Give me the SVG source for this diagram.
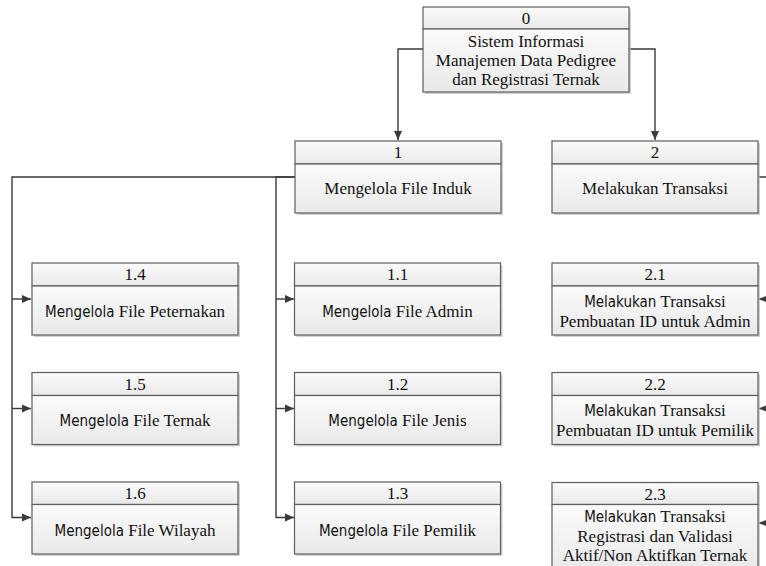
<svg xmlns="http://www.w3.org/2000/svg" width="766" height="566" viewBox="0 0 766 566">
<defs>
<linearGradient id="g" x1="0" y1="0" x2="0" y2="1">
<stop offset="0" stop-color="#fbfbfb"/>
<stop offset="1" stop-color="#e9e9e9"/>
</linearGradient>
<marker id="ah" markerUnits="userSpaceOnUse" markerWidth="10" markerHeight="10" refX="9" refY="5" orient="auto">
<path d="M0,1 L9,5 L0,9 Z" fill="#3a3a3a"/>
</marker>
<style>
.sh{fill:#bdbdbd;opacity:0.7}
.bx{fill:url(#g);stroke:#5e5e5e;stroke-width:1.2}
.t{font-family:"Liberation Serif","Times New Roman",serif;font-size:17px;fill:#111;text-anchor:middle}
.s{font-family:"DejaVu Sans Condensed","DejaVu Sans",sans-serif;font-stretch:condensed;font-size:15px}
.c{fill:none;stroke:#3a3a3a;stroke-width:1.4}
.a{marker-end:url(#ah)}
</style>
</defs>
<rect width="766" height="566" fill="#ffffff"/>

<g id="connectors">
<path class="c a" d="M423,49 H398 V140"/>
<path class="c a" d="M629,49 H655 V140"/>
<path class="c a" d="M295,177 H12 V517.5 H31"/>
<path class="c a" d="M12,299 H31"/>
<path class="c a" d="M12,408.5 H31"/>
<path class="c a" d="M295,177 H276 V517.5 H294"/>
<path class="c a" d="M276,299 H294"/>
<path class="c a" d="M276,408.5 H294"/>
<path class="c" d="M758,177 H768 V523"/>
<path class="c a" d="M768,299 H759"/>
<path class="c a" d="M768,408.5 H759"/>
<path class="c a" d="M768,523 H759"/>
</g>

<g id="n0">
<rect class="sh" x="425" y="9" width="206" height="85"/>
<rect class="bx" x="423" y="7" width="206" height="22"/>
<rect class="bx" x="423" y="29" width="206" height="63"/>
<text class="t" x="526" y="24">0</text>
<text class="t" x="526" y="47">Sistem Informasi</text>
<text class="t" x="526" y="66">Manajemen Data Pedigree</text>
<text class="t" x="526" y="85">dan Registrasi Ternak</text>
</g>

<g id="n1">
<rect class="sh" x="297" y="143" width="206" height="72"/>
<rect class="bx" x="295" y="141" width="206" height="23"/>
<rect class="bx" x="295" y="164" width="206" height="49"/>
<text class="t" x="398" y="158">1</text>
<text class="t" x="398" y="194">Mengelola File Induk</text>
</g>

<g id="n2">
<rect class="sh" x="554" y="143" width="206" height="72"/>
<rect class="bx" x="552" y="141" width="206" height="23"/>
<rect class="bx" x="552" y="164" width="206" height="49"/>
<text class="t" x="655" y="158">2</text>
<text class="t" x="655" y="194">Melakukan Transaksi</text>
</g>

<g id="n1-4">
<rect class="sh" x="34" y="265" width="206" height="72"/>
<rect class="bx" x="32" y="263" width="206" height="23"/>
<rect class="bx" x="32" y="286" width="206" height="49"/>
<text class="t" x="135" y="280">1.4</text>
<text class="t" x="135" y="316.5"><tspan class="s">Mengelola</tspan> File Peternakan</text>
</g>

<g id="n1-5">
<rect class="sh" x="34" y="374.5" width="206" height="72"/>
<rect class="bx" x="32" y="372.5" width="206" height="23"/>
<rect class="bx" x="32" y="395.5" width="206" height="49"/>
<text class="t" x="135" y="389.5">1.5</text>
<text class="t" x="135" y="426"><tspan class="s">Mengelola</tspan> File Ternak</text>
</g>

<g id="n1-6">
<rect class="sh" x="34" y="484" width="206" height="72"/>
<rect class="bx" x="32" y="482" width="206" height="22.5"/>
<rect class="bx" x="32" y="504.5" width="206" height="49.5"/>
<text class="t" x="135" y="499">1.6</text>
<text class="t" x="135" y="535.5"><tspan class="s">Mengelola</tspan> File Wilayah</text>
</g>

<g id="n1-1">
<rect class="sh" x="296.5" y="265" width="206" height="72"/>
<rect class="bx" x="294.5" y="263" width="206" height="23"/>
<rect class="bx" x="294.5" y="286" width="206" height="49"/>
<text class="t" x="397.5" y="280">1.1</text>
<text class="t" x="397.5" y="316.5"><tspan class="s">Mengelola</tspan> File Admin</text>
</g>

<g id="n1-2">
<rect class="sh" x="296.5" y="374.5" width="206" height="72"/>
<rect class="bx" x="294.5" y="372.5" width="206" height="23"/>
<rect class="bx" x="294.5" y="395.5" width="206" height="49"/>
<text class="t" x="397.5" y="389.5">1.2</text>
<text class="t" x="397.5" y="426"><tspan class="s">Mengelola</tspan> File Jenis</text>
</g>

<g id="n1-3">
<rect class="sh" x="296.5" y="484" width="206" height="72"/>
<rect class="bx" x="294.5" y="482" width="206" height="22.5"/>
<rect class="bx" x="294.5" y="504.5" width="206" height="49.5"/>
<text class="t" x="397.5" y="499">1.3</text>
<text class="t" x="397.5" y="535.5"><tspan class="s">Mengelola</tspan> File Pemilik</text>
</g>

<g id="n2-1">
<rect class="sh" x="554" y="265" width="206" height="72"/>
<rect class="bx" x="552" y="263" width="206" height="23"/>
<rect class="bx" x="552" y="286" width="206" height="49"/>
<text class="t" x="655" y="280">2.1</text>
<text class="t" x="655" y="306.5"><tspan class="s">Melakukan</tspan> Transaksi</text>
<text class="t" x="655" y="326.5">Pembuatan ID untuk Admin</text>
</g>

<g id="n2-2">
<rect class="sh" x="554" y="374.5" width="206" height="72"/>
<rect class="bx" x="552" y="372.5" width="206" height="23"/>
<rect class="bx" x="552" y="395.5" width="206" height="49"/>
<text class="t" x="655" y="389.5">2.2</text>
<text class="t" x="655" y="416"><tspan class="s">Melakukan</tspan> Transaksi</text>
<text class="t" x="655" y="436">Pembuatan ID untuk Pemilik</text>
</g>

<g id="n2-3">
<rect class="sh" x="554" y="484.5" width="206" height="90"/>
<rect class="bx" x="552" y="482.5" width="206" height="22"/>
<rect class="bx" x="552" y="504.5" width="206" height="68"/>
<text class="t" x="655" y="499.5">2.3</text>
<text class="t" x="655" y="522"><tspan class="s">Melakukan</tspan> Transaksi</text>
<text class="t" x="655" y="541.5">Registrasi dan Validasi</text>
<text class="t" x="655" y="561">Aktif/Non Aktifkan Ternak</text>
</g>
</svg>
